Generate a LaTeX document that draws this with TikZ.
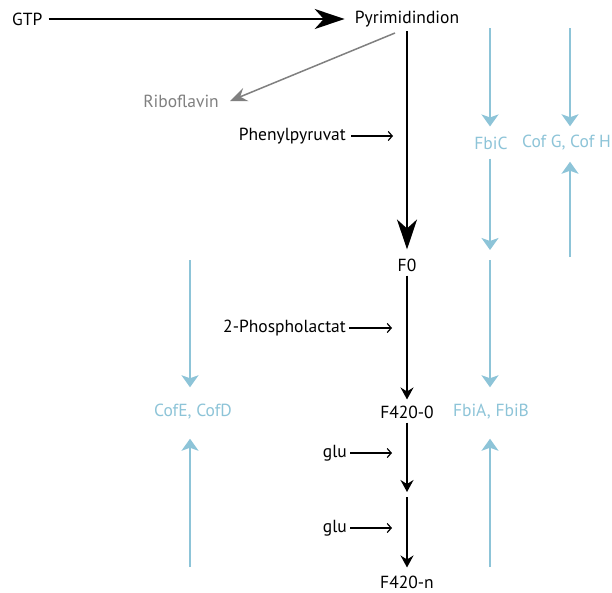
\documentclass[tikz,border=0pt]{standalone}
\usepackage{fontspec}
\setmainfont{PT Sans}
\usetikzlibrary{arrows.meta}
\definecolor{bl}{RGB}{141,196,216}
\definecolor{gr}{RGB}{128,128,128}
\begin{document}
\begin{tikzpicture}[x=1pt,y=-1pt, font=\fontsize{17.5}{20}\selectfont,
  lab/.style={inner sep=0pt},
  enz/.style={inner sep=0pt, text=bl},
  big/.style={line width=1.5pt, -{Stealth[length=30pt,width=20pt,inset=9pt]}},
  main/.style={line width=1.5pt, -{Stealth[length=12pt,width=13pt,inset=4pt]}},
  side/.style={line width=1.2pt, -{Straight Barb[length=4pt,width=9pt]}},
  grey/.style={gr, line width=1.5pt, -{Stealth[length=17pt,width=14pt,inset=6pt]}},
  blu/.style={bl, line width=1.8pt, -{Stealth[length=12pt,width=17pt,inset=3pt]}}]
\useasboundingbox[fill=white] (0,0) rectangle (612,592);
% substances
\node[lab, anchor=west] (gtp) at (12,19) {GTP};
\node[lab] (pyr) at (407,19) {Pyrimidindion};
\node[lab, text=gr, anchor=east] (ribo) at (219,101) {Riboflavin};
\node[lab] (f0) at (407,265) {F0};
\node[lab] (f4200) at (407,412) {F420-0};
\node[lab] (f420n) at (407,582) {F420-n};
\node[lab, anchor=east] (phe) at (346,136) {Phenylpyruvat};
\node[lab, anchor=east] (pho) at (346,328) {2-Phospholactat};
\node[lab, anchor=east] (glu1) at (347,453) {glu};
\node[lab, anchor=east] (glu2) at (347,528) {glu};
% enzymes
\node[enz] (fbic) at (491,143) {FbiC};
\node[enz, anchor=east] (cofg) at (611,143) {Cof G, Cof H};
\node[enz] (cofe) at (193,412) {CofE, CofD};
\node[enz] (fbia) at (491,412) {FbiA, FbiB};
% coordinates
\coordinate (pyrS) at (407,31);
\coordinate (pyrR) at (395,33);
\coordinate (m1) at (407,492);
\coordinate (m2) at (407,497);
\coordinate (t1) at (393,136);
\coordinate (t2) at (392,328);
\coordinate (t3) at (392,453);
\coordinate (t4) at (392,528);
\coordinate (fbicTop) at (490,28);
\coordinate (cofgTop) at (570,28);
\coordinate (cofgLow) at (570,257);
\coordinate (fbiMid) at (490,250);
\coordinate (fbiMid2) at (490,260);
\coordinate (cofeTop) at (190,260);
\coordinate (cofeLow) at (190,567);
\coordinate (fbiaLow) at (490,567);
% black pathway
\draw[big] ([xshift=6pt]gtp.east) -- ([xshift=-10pt]pyr.west);
\draw[grey] (pyrR) -- ([xshift=11pt]ribo.east);
\draw[big] (pyrS) -- ([yshift=9pt]f0.north);
\draw[main] ([yshift=-4pt]f0.south) -- ([yshift=6pt]f4200.north);
\draw[main] ([yshift=-4pt]f4200.south) -- (m1);
\draw[main] (m2) -- ([yshift=8pt]f420n.north);
\draw[side] ([xshift=5pt]phe.east) -- (t1);
\draw[side] ([xshift=3pt]pho.east) -- (t2);
\draw[side] ([xshift=3pt]glu1.east) -- (t3);
\draw[side] ([xshift=3pt]glu2.east) -- (t4);
% enzymes
\draw[blu] (fbicTop) -- ([yshift=10pt]fbic.north -| fbicTop);
\draw[blu] ([yshift=-9pt]fbic.south -| fbicTop) -- (fbiMid);
\draw[blu] (fbiMid2) -- ([yshift=17pt]fbia.north -| fbiMid2);
\draw[blu] (fbiaLow) -- ([yshift=-19pt]fbia.south -| fbiaLow);
\draw[blu] (cofgTop) -- ([yshift=9pt]cofg.north -| cofgTop);
\draw[blu] (cofgLow) -- ([yshift=-11pt]cofg.south -| cofgLow);
\draw[blu] (cofeTop) -- ([yshift=17pt]cofe.north -| cofeTop);
\draw[blu] (cofeLow) -- ([yshift=-19pt]cofe.south -| cofeLow);
\end{tikzpicture}
\end{document}
